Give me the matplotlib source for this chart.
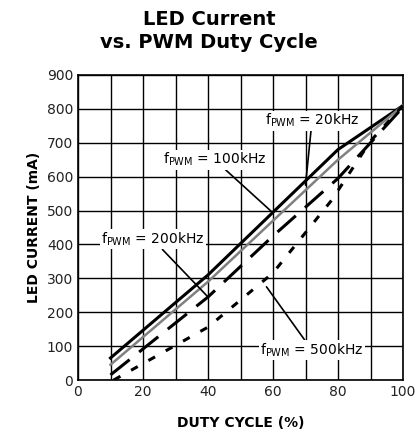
import matplotlib
matplotlib.use("Agg")
import matplotlib.pyplot as plt

duty = [10, 40, 60, 80, 100]
i_20k = [65, 310, 495, 680, 810]
i_100k = [45, 290, 470, 650, 810]
i_200k = [15, 245, 425, 595, 805]
duty_500k = [11, 40, 60, 78, 90, 100]
i_500k = [0, 156, 316, 530, 705, 810]

fig = plt.figure(figsize=(4.18, 4.43), dpi=100)
ax = fig.add_axes([78/418, 1-380/443, 325/418, 305/443])
ax.plot(duty, i_20k, color='black', lw=2.2, zorder=3)
ax.plot(duty, i_100k, color='#808080', lw=1.8, zorder=3)
ax.plot(duty, i_200k, color='black', lw=2.2, dashes=(8, 4), zorder=3)
ax.plot(duty_500k, i_500k, color='black', lw=2.2, dashes=(2.5, 4), zorder=3)
ax.set_xlim(0, 100); ax.set_ylim(0, 900)
ax.set_xticks(range(0, 101, 20)); ax.set_xticks(range(0, 101, 10), minor=True)
ax.set_yticks(range(0, 901, 100))
ax.grid(True, which='both', color='black', lw=1)
ax.tick_params(which='both', length=0, labelsize=10, labelcolor='#222222')
for s in ax.spines.values(): s.set_linewidth(1.2)
ax.set_xlabel('DUTY CYCLE (%)', fontweight='bold', fontsize=10, labelpad=12)
ax.set_ylabel('LED CURRENT (mA)', fontweight='bold', fontsize=10)
fig.text(0.5, 0.93, 'LED Current\nvs. PWM Duty Cycle', ha='center', va='center', fontweight='bold', fontsize=14, linespacing=1.25)
box = dict(facecolor='white', edgecolor='none', pad=1)
ann = [(r'f$_{\rm PWM}$ = 20kHz', (72, 765), (70, 575)),
       (r'f$_{\rm PWM}$ = 100kHz', (42, 650), (60, 493)),
       (r'f$_{\rm PWM}$ = 200kHz', (23, 415), (40, 245)),
       (r'f$_{\rm PWM}$ = 500kHz', (72, 88), (58, 275))]
for t, xy, tgt in ann:
    ax.annotate(t, xy=tgt, xytext=xy, ha='center', va='center', fontsize=10, bbox=box,
                arrowprops=dict(arrowstyle='-', color='black', lw=1.2, shrinkA=0, shrinkB=0), zorder=4)
fig.savefig('out.png', dpi=100)
